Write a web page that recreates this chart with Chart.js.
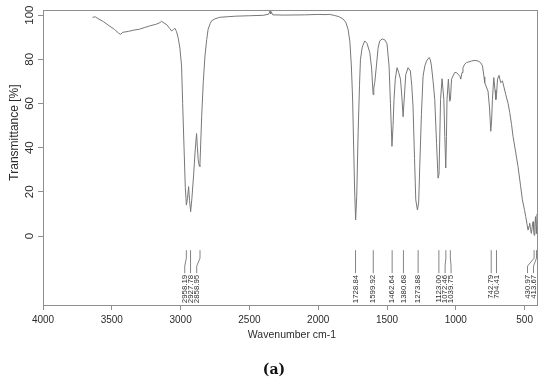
<!DOCTYPE html>
<html>
<head>
<meta charset="utf-8">
<script src="https://cdn.jsdelivr.net/npm/chart.js@4/dist/chart.umd.min.js"></script>
<style>
  html, body { margin: 0; padding: 0; background: #fff; }
  canvas { display: block; }
</style>
</head>
<body>
<canvas id="myChart" width="550" height="387"></canvas>
<script>
// spectrum (wavenumber cm-1 / transmittance %)
const wavenumbers = [
  3640, 3620, 3600, 3560, 3520, 3480, 3450, 3436, 3420, 3380, 3340, 3300, 3260, 3220, 3180, 3150,
  3138, 3120, 3100, 3080, 3065, 3052, 3041, 3030, 3017, 3005, 2993, 2985, 2975, 2966, 2958, 2950,
  2942, 2935, 2927, 2918, 2905, 2895, 2884, 2878, 2872, 2865, 2860, 2856, 2847, 2835, 2823, 2810,
  2800, 2785, 2775, 2750, 2715, 2650, 2600, 2500, 2400, 2360, 2350, 2345, 2340, 2330, 2250, 2100,
  2000, 1950, 1916, 1880, 1850, 1819, 1800, 1783, 1770, 1759, 1750, 1742, 1735, 1728, 1720, 1710,
  1700, 1693, 1680, 1662, 1645, 1625, 1612, 1601, 1596, 1589, 1577, 1565, 1553, 1535, 1516, 1500,
  1485, 1475, 1464, 1456, 1449, 1440, 1427, 1415, 1402, 1392, 1383, 1375, 1364, 1347, 1330, 1320,
  1311, 1300, 1291, 1279, 1270, 1262, 1250, 1238, 1225, 1213, 1194, 1185, 1177, 1165, 1153, 1140,
  1129, 1122, 1111, 1100, 1087, 1080, 1073, 1068, 1064, 1054, 1044, 1039, 1031, 1020, 1008, 995,
  984, 970, 964, 955, 948, 935, 923, 905, 887, 860, 838, 820, 806, 795, 790, 775,
  766, 755, 746, 740, 734, 724, 715, 709, 704, 697, 686, 674, 661, 652, 637, 620,
  608, 595, 584, 565, 548, 530, 516, 500, 492, 483, 475, 468, 463, 457, 451, 445,
  439, 435, 431, 426, 421, 417, 414, 410
];
const transmittance = [
  99.0, 99.2, 98.4, 97.0, 95.2, 93.5, 91.8, 91.3, 92.2, 92.6, 93.2, 93.6, 94.4, 95.2, 95.8, 96.6,
  97.2, 96.4, 95.6, 94.0, 92.8, 93.5, 94.0, 92.6, 89.5, 85.0, 77.0, 60.0, 40.0, 22.0, 14.0, 17.0,
  22.4, 16.0, 11.0, 17.0, 28.0, 38.0, 46.4, 40.0, 34.5, 32.0, 31.5, 38.0, 54.0, 70.0, 81.5, 89.0,
  93.6, 96.2, 97.4, 98.3, 99.0, 99.3, 99.5, 99.7, 99.9, 100.4, 101.8, 100.6, 101.3, 100.1, 100.0, 100.1,
  100.3, 100.2, 100.3, 99.8, 99.3, 98.2, 96.8, 93.6, 88.0, 77.0, 62.0, 39.0, 20.0, 7.3, 18.0, 46.8,
  68.0, 80.0, 85.5, 88.3, 87.2, 83.0, 76.0, 64.0, 67.0, 69.5, 77.0, 85.0, 88.3, 89.2, 88.8, 87.0,
  77.0, 60.0, 40.6, 50.0, 61.8, 71.0, 76.2, 74.0, 71.0, 63.0, 54.0, 62.0, 73.0, 76.2, 74.7, 68.0,
  58.8, 35.0, 16.4, 11.8, 15.0, 31.5, 55.0, 72.4, 77.0, 79.2, 80.8, 79.8, 77.0, 70.0, 61.8, 42.0,
  26.2, 28.0, 61.8, 71.2, 61.8, 45.0, 30.8, 45.0, 61.8, 71.0, 61.0, 62.0, 71.0, 72.5, 74.0, 74.0,
  73.2, 72.3, 71.0, 74.0, 76.2, 77.8, 78.5, 78.8, 79.2, 79.5, 79.2, 78.5, 77.0, 72.0, 69.4, 67.0,
  65.6, 58.0, 47.4, 52.0, 61.8, 71.7, 66.0, 61.8, 64.0, 71.0, 72.7, 69.4, 70.2, 67.9, 64.0, 60.0,
  55.8, 50.5, 45.0, 38.0, 31.5, 23.0, 16.4, 11.5, 8.8, 5.5, 2.7, 4.5, 5.8, 3.0, 1.2, 4.0,
  6.5, 3.0, 0.4, 4.0, 8.8, 4.0, 1.2, 10.0
];
const xTicks = [4000, 3500, 3000, 2500, 2000, 1500, 1000, 500];
const yTicks = [0, 20, 40, 60, 80, 100];
const peakLabels = [
  '2958.19', '2927.78', '2858.95', '1728.84', '1599.92', '1462.64', '1380.68', '1273.88',
  '1123.00', '1072.46', '1039.75', '742.79', '704.41', '430.97', '413.67'
];

const axisColor = '#8e8e8e';
const textColor = '#2b2b2b';
const fontFamily = '"Liberation Sans", Arial, sans-serif';

// spread crowded peak labels apart
function spreadLabels(px, gap, maxX) {
  const pos = px.slice();
  for (let it = 0; it < 100; it++) {
    for (let i = 1; i < pos.length; i++) {
      const d = pos[i] - pos[i - 1];
      if (d < gap) {
        const s = (gap - d) / 2;
        pos[i - 1] -= s;
        pos[i] += s;
      }
    }
    for (let i = pos.length - 1; i >= 0; i--) {
      const lim = i === pos.length - 1 ? maxX : pos[i + 1] - gap;
      if (pos[i] > lim) pos[i] = lim;
    }
  }
  return pos;
}

const spectrumDecor = {
  id: 'spectrumDecor',
  afterDraw(chart) {
    const ctx = chart.ctx;
    const area = chart.chartArea;
    const xs = chart.scales.x;
    const ys = chart.scales.y;
    ctx.save();

    // frame
    ctx.strokeStyle = axisColor;
    ctx.lineWidth = 1;
    ctx.strokeRect(Math.round(area.left) + 0.5, Math.round(area.top) + 0.5,
      Math.round(area.right - area.left), Math.round(area.bottom - area.top));

    ctx.fillStyle = textColor;

    // x tick labels
    ctx.font = '10px ' + fontFamily;
    ctx.textAlign = 'center';
    ctx.textBaseline = 'middle';
    xTicks.forEach(v => {
      ctx.fillText(String(v), xs.getPixelForValue(v), area.bottom + 15.5);
    });

    // y tick labels, turned like the original
    ctx.font = '11.5px ' + fontFamily;
    yTicks.forEach(v => {
      ctx.save();
      ctx.translate(30, ys.getPixelForValue(v));
      ctx.rotate(-Math.PI / 2);
      ctx.fillText(String(v), 0, 0);
      ctx.restore();
    });

    // axis titles
    ctx.font = '12px ' + fontFamily;
    ctx.save();
    ctx.translate(15, 132.5);
    ctx.rotate(-Math.PI / 2);
    ctx.fillText('Transmittance [%]', 0, 0);
    ctx.restore();

    ctx.font = '10.5px ' + fontFamily;
    ctx.fillText('Wavenumber cm-1', (area.left + area.right) / 2 + 2, 335);

    // peak markers
    const peakPx = peakLabels.map(l => xs.getPixelForValue(parseFloat(l)));
    const wanted = peakPx.map((p, i) => peakLabels[i] === '2858.95' ? p - 4 : p);
    const labelPx = spreadLabels(wanted, 6, area.right - 3.5);
    const yTop = ys.getPixelForValue(-6.4);
    const yBend1 = ys.getPixelForValue(-10.0);
    const yBend2 = ys.getPixelForValue(-13.6);
    const yEnd = ys.getPixelForValue(-16.8);
    const yText = ys.getPixelForValue(-17.6);

    ctx.strokeStyle = '#767676';
    ctx.lineWidth = 0.9;
    peakLabels.forEach((label, i) => {
      const p = peakPx[i];
      const q = labelPx[i];
      ctx.beginPath();
      ctx.moveTo(p, yTop);
      if (Math.abs(q - p) < 0.6) {
        ctx.lineTo(p, yEnd);
      } else {
        ctx.lineTo(p, yBend1);
        ctx.lineTo(q, yBend2);
        ctx.lineTo(q, yEnd);
      }
      ctx.stroke();

      ctx.save();
      ctx.font = '7.8px ' + fontFamily;
      ctx.textAlign = 'right';
      ctx.textBaseline = 'middle';
      ctx.translate(q, yText);
      ctx.rotate(-Math.PI / 2);
      ctx.fillText(label, 0, 0);
      ctx.restore();
    });

    // panel letter
    ctx.font = 'bold 14px "DejaVu Serif", "Liberation Serif", serif';
    ctx.textAlign = 'center';
    ctx.textBaseline = 'middle';
    ctx.fillStyle = '#111';
    ctx.fillText('(a)', 274, 370);

    ctx.restore();
  }
};

const points = wavenumbers.map((w, i) => ({ x: w, y: transmittance[i] }));

new Chart(document.getElementById('myChart'), {
  type: 'line',
  data: {
    datasets: [{
      data: points,
      borderColor: '#777777',
      borderWidth: 1,
      pointRadius: 0,
      tension: 0,
      fill: false
    }]
  },
  options: {
    responsive: false,
    animation: false,
    devicePixelRatio: 1,
    layout: { padding: { left: 0, right: 13, top: 10, bottom: 0 } },
    plugins: {
      legend: { display: false },
      tooltip: { enabled: false }
    },
    scales: {
      x: {
        type: 'linear',
        reverse: true,
        min: 410,
        max: 4000,
        afterBuildTicks: s => { s.ticks = xTicks.map(v => ({ value: v })); },
        afterFit: s => { s.height = 82; },
        ticks: { display: false },
        border: { display: false },
        grid: { display: true, drawOnChartArea: false, drawTicks: true, tickLength: 5, color: axisColor }
      },
      y: {
        min: -31.2,
        max: 102.3,
        afterBuildTicks: s => { s.ticks = yTicks.map(v => ({ value: v })); },
        afterFit: s => { s.width = 43; },
        ticks: { display: false },
        border: { display: false },
        grid: { display: true, drawOnChartArea: false, drawTicks: true, tickLength: 5, color: axisColor }
      }
    }
  },
  plugins: [spectrumDecor]
});
</script>
</body>
</html>
